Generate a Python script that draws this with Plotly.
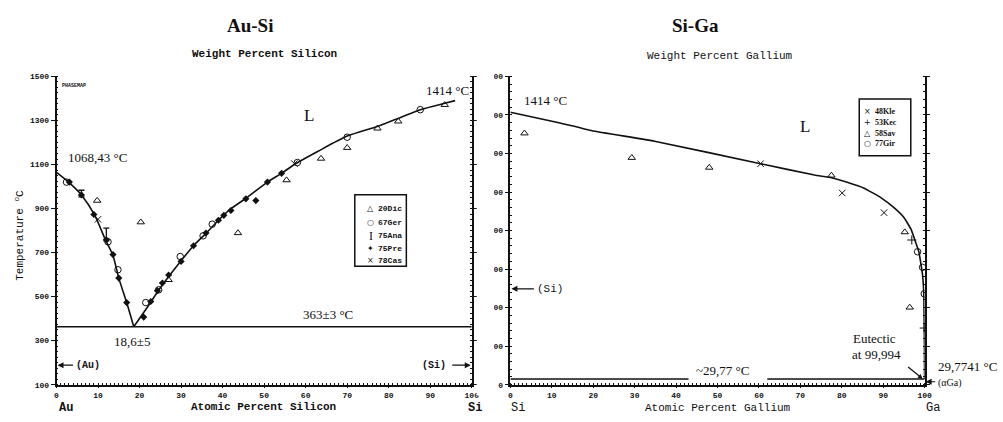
import plotly.graph_objects as go

W, H = 1003, 422

# ---------------- Au-Si data (atomic % Si, temperature °C) ----------------
ausi_liq_au_x = [0, 2.9, 6, 9.1, 11.9, 13.6, 15, 16.9, 18.6]
ausi_liq_au_t = [1064, 1020, 962, 873, 753, 687, 584, 473, 363]
ausi_liq_si_x = [18.6, 22, 25, 28, 30.3, 33, 36.3, 39, 41.8, 45.8, 50.8, 54.2, 57.3, 63, 70, 77.6, 83, 87.8, 93.5, 96]
ausi_liq_si_t = [363, 455, 540, 615, 670, 731, 793, 847, 896, 949, 1020, 1060, 1100, 1160, 1229, 1275, 1315, 1350, 1378, 1390]
ausi_eut_x = [0, 100]
ausi_eut_t = [363, 363]

dic20_x = [9.8, 20.3, 27, 43.7, 55.4, 63.7, 70, 77.3, 82.3, 93.5]
dic20_t = [936, 838, 576, 789, 1029, 1127, 1176, 1264, 1296, 1371]
ger67_x = [2.4, 12.4, 14.8, 21.5, 24.6, 29.8, 35.3, 37.5, 58, 70, 87.6]
ger67_t = [1020, 749, 622, 473, 531, 682, 776, 829, 1109, 1224, 1349]
ana75_x = [6, 12]
ana75_t = [968, 782]
ana75_err = [15, 29]
pre75_x = [3.1, 6, 9, 12, 13.6, 15, 16.9, 21, 22.7, 24.3, 25.5, 27, 30, 33, 36, 39, 40.3, 42, 45.6, 48, 50.8, 54.2]
pre75_t = [1020, 962, 873, 758, 691, 584, 473, 407, 478, 527, 562, 598, 660, 731, 789, 847, 869, 891, 944, 936, 1020, 1060]
cas78_x = [10, 57.3]
cas78_t = [851, 1104]

ausi_wt_ticks = [0, 2, 5, 10, 20, 30, 40, 50, 60, 80, 100]

# ---------------- Si-Ga data (atomic % Ga, temperature °C) ----------------
siga_liq_x = [0, 11.7, 19.7, 34.8, 60.4, 73.4, 77.5, 81.3, 85.4, 89.5, 92.6, 95, 96.7, 97.8, 98.6, 99.0, 99.5, 99.8, 99.95, 99.994]
siga_liq_t = [1414, 1360, 1318, 1264, 1147, 1088, 1074, 1051, 1020, 970, 919, 868, 807, 741, 690, 640, 569, 467, 200, 29.77]
siga_eut_x = [0, 43, None, 62, 100]
siga_eut_t = [29.77, 29.77, None, 29.77, 29.77]

kle48_x = [60.4, 80.1, 90.2]
kle48_t = [1147, 995, 893]
kec53_x = [96.9, 99.9]
kec53_t = [751, 294]
sav58_x = [3.4, 29.3, 48, 77.5, 95.2, 96.4]
sav58_t = [1305, 1178, 1127, 1086, 792, 401]
gir77_x = [98.3, 99.5, 99.9]
gir77_t = [690, 609, 472]

siga_wt_ticks = [0, 10, 20, 30, 40, 50, 60, 70, 80, 90, 100]

M_AU, M_SI, M_GA = 196.967, 28.086, 69.723


def wt_to_at(w, m_self, m_other):
    if w <= 0:
        return 0.0
    if w >= 100:
        return 100.0
    a = w / m_self
    b = (100 - w) / m_other
    return 100 * a / (a + b)


INK = "#111111"
SERIF = "Liberation Serif"
MONO = "Liberation Mono"


def px(x, y):
    return x / W, 1 - y / H


fig = go.Figure()

line_style = dict(color=INK, width=1.6)
# Au-Si curves
fig.add_trace(go.Scatter(x=ausi_liq_au_x, y=ausi_liq_au_t, mode="lines", line=dict(shape="spline", smoothing=0.7, **line_style),
                         xaxis="x", yaxis="y", showlegend=False, name="Liquidus (Au side)"))
fig.add_trace(go.Scatter(x=ausi_liq_si_x, y=ausi_liq_si_t, mode="lines", line=dict(shape="spline", smoothing=0.7, **line_style),
                         xaxis="x", yaxis="y", showlegend=False, name="Liquidus (Si side)"))
fig.add_trace(go.Scatter(x=ausi_eut_x, y=ausi_eut_t, mode="lines", line=line_style,
                         xaxis="x", yaxis="y", showlegend=False, name="Eutectic"))

mk = dict(color=INK, size=6.5, line=dict(color=INK, width=1))
fig.add_trace(go.Scatter(x=dic20_x, y=dic20_t, mode="markers", name="20Dic",
                         marker=dict(symbol="triangle-up-open", **mk), xaxis="x", yaxis="y", showlegend=False))
fig.add_trace(go.Scatter(x=ger67_x, y=ger67_t, mode="markers", name="67Ger",
                         marker=dict(symbol="circle-open", **mk), xaxis="x", yaxis="y", showlegend=False))
fig.add_trace(go.Scatter(x=ana75_x, y=ana75_t, mode="markers", name="75Ana",
                         marker=dict(symbol="line-ew", size=1, color=INK),
                         error_y=dict(type="data", array=ana75_err, color=INK, thickness=1.3, width=3),
                         xaxis="x", yaxis="y", showlegend=False))
fig.add_trace(go.Scatter(x=pre75_x, y=pre75_t, mode="markers", name="75Pre",
                         marker=dict(symbol="diamond", color=INK, size=5.5), xaxis="x", yaxis="y", showlegend=False))
fig.add_trace(go.Scatter(x=cas78_x, y=cas78_t, mode="markers", name="78Cas",
                         marker=dict(symbol="x-thin-open", **mk), xaxis="x", yaxis="y", showlegend=False))

# Si-Ga curves
fig.add_trace(go.Scatter(x=siga_liq_x, y=siga_liq_t, mode="lines", line=dict(shape="spline", smoothing=0.3, **line_style),
                         xaxis="x2", yaxis="y2", showlegend=False, name="Liquidus"))
fig.add_trace(go.Scatter(x=siga_eut_x, y=siga_eut_t, mode="lines", line=line_style, connectgaps=False,
                         xaxis="x2", yaxis="y2", showlegend=False, name="Eutectic"))
fig.add_trace(go.Scatter(x=kle48_x, y=kle48_t, mode="markers", name="48Kle",
                         marker=dict(symbol="x-thin-open", **mk), xaxis="x2", yaxis="y2", showlegend=False))
fig.add_trace(go.Scatter(x=kec53_x, y=kec53_t, mode="markers", name="53Kec",
                         marker=dict(symbol="cross-thin-open", **mk), xaxis="x2", yaxis="y2", showlegend=False))
fig.add_trace(go.Scatter(x=sav58_x, y=sav58_t, mode="markers", name="58Sav",
                         marker=dict(symbol="triangle-up-open", **mk), xaxis="x2", yaxis="y2", showlegend=False))
fig.add_trace(go.Scatter(x=gir77_x, y=gir77_t, mode="markers", name="77Gir",
                         marker=dict(symbol="circle-open", **mk), xaxis="x2", yaxis="y2", showlegend=False))

# ---------------- axes ----------------
ydom = [1 - 389 / H, 1 - 74 / H]
tickfont = dict(family=MONO, size=8, color=INK, weight="bold")
common = dict(showline=True, linecolor=INK, linewidth=1.5, ticks="outside", ticklen=4, tickwidth=1.2,
              tickcolor=INK, showgrid=False, zeroline=False, tickfont=tickfont)
bottom = {**common, "ticklen": 2}


def minor(dt):
    return dict(ticks="inside", ticklen=2, tickcolor=INK, tickwidth=1, dtick=dt, showgrid=False)


fig.update_layout(
    xaxis=dict(domain=[55 / W, 474 / W], range=[0, 100], anchor="y", tickvals=list(range(0, 101, 10)),
               minor=minor(1), **bottom),
    yaxis=dict(domain=ydom, range=[100, 1500], anchor="x", tickvals=list(range(100, 1501, 200)), mirror="ticks",
               minor=minor(25), **common),
    xaxis3=dict(overlaying="x", side="top", anchor="y", range=[0, 100],
                tickvals=[wt_to_at(w, M_SI, M_AU) for w in ausi_wt_ticks],
                ticktext=[str(w) for w in ausi_wt_ticks], minor=minor(1), **common),
    xaxis2=dict(domain=[513 / W, 931 / W], range=[0, 100], anchor="y2", tickvals=list(range(0, 101, 10)),
                minor=minor(1), **bottom),
    yaxis2=dict(domain=ydom, range=[0, 1600], anchor="x2", tickvals=list(range(0, 1601, 200)), mirror="ticks",
                minor=minor(40), **common),
    xaxis4=dict(overlaying="x2", side="top", anchor="y2", range=[0, 100],
                tickvals=[wt_to_at(w, M_GA, M_SI) for w in siga_wt_ticks],
                ticktext=[str(w) for w in siga_wt_ticks], minor=minor(1), **common),
    width=W, height=H, margin=dict(l=0, r=0, t=0, b=0),
    paper_bgcolor="white", plot_bgcolor="white", showlegend=False,
)

# ---------------- annotations ----------------
ann = []


def text(x, y, s, size=13, family=SERIF, bold=False, xanchor="center", angle=0, yanchor="middle"):
    ax_, ay_ = px(x, y)
    ann.append(dict(x=ax_, y=ay_, xref="paper", yref="paper", text=s, showarrow=False,
                    xanchor=xanchor, yanchor=yanchor, textangle=angle,
                    font=dict(family=family, size=size, color=INK, weight="bold" if bold else "normal")))


def arrow(x0, y0, x1, y1, head=2, size=1.0):
    a1 = px(x1, y1)
    ann.append(dict(x=a1[0], y=a1[1], ax=x0 - x1, ay=y0 - y1, xref="paper", yref="paper",
                    axref="pixel", ayref="pixel",
                    text="", showarrow=True, arrowhead=head, arrowsize=size, arrowwidth=1.2, arrowcolor=INK))


# titles
text(250, 22, "Au-Si", size=19, bold=True)
text(700, 22, "Si-Ga", size=19, bold=True)
# axis titles
text(265, 51, "Weight Percent Silicon", size=11, family=MONO, bold=True)
text(724, 53, "Weight Percent Gallium", size=11, family=MONO)
text(264, 412, "Atomic Percent Silicon", size=11, family=MONO, bold=True)
text(722, 413, "Atomic Percent Gallium", size=11, family=MONO)
text(18, 236, "Temperature <sup>o</sup>C", size=11, family=MONO, angle=-90)
text(55, 413, "Au", size=12, family=MONO, bold=True, xanchor="left")
text(486, 413, "Si", size=12, family=MONO, bold=True, xanchor="right")
text(512, 413, "Si", size=12, family=MONO, xanchor="left")
text(930, 413, "Ga", size=12, family=MONO, xanchor="left")
text(59, 84, "PHASEMAP", size=5, family=MONO, bold=True, xanchor="left")

# Au-Si labels
text(65, 157, "1068,43 °C", xanchor="left")
text(450, 88, "1414 °C")
text(310, 114, "L", size=17)
text(329, 317, "363±3 °C")
text(131, 345, "18,6±5")
text(73, 369, "(Au)", size=10, family=MONO, bold=True, xanchor="left")
arrow(73, 369, 56, 369)
text(450, 369, "(Si)", size=10, family=MONO, bold=True, xanchor="right")
arrow(453, 369, 473, 369)

# Si-Ga labels
text(525, 99, "1414 °C", xanchor="left")
text(810, 125, "L", size=17)
text(727, 374, "~29,77 °C")
text(857, 342, "Eutectic", xanchor="left")
text(856, 358, "at 99,994", xanchor="left")
arrow(913, 370, 929, 383, head=2, size=0.8)
text(942, 370, "29,7741 °C", xanchor="left")
text(942, 387, "(αGa)", size=10, xanchor="left")
arrow(943, 386, 932, 386, head=2, size=1.0)
text(538, 291, "(Si)", size=11, family=MONO, xanchor="left")
arrow(538, 291, 514, 291)

# legends (drawn as text in framed boxes)
left_leg_sym = ["△", "○", "I", "✦", "×"]
left_leg_lab = ["20Dic", "67Ger", "75Ana", "75Pre", "78Cas"]
left_leg_y = [209, 223, 237, 250, 262]
for s, lab, y in zip(left_leg_sym, left_leg_lab, left_leg_y):
    if s == "I":
        text(372, y, s, size=12, family=SERIF)
    else:
        text(372, y, s, size=8, family="DejaVu Sans")
    text(377, y, lab, size=8, family=MONO, bold=True, xanchor="left")

right_leg_sym = ["×", "+", "△", "○"]
right_leg_lab = ["48Kle", "53Kec", "58Sav", "77Gir"]
right_leg_y = [110, 121, 132, 143]
for s, lab, y in zip(right_leg_sym, right_leg_lab, right_leg_y):
    text(873, y, s, size=8, family="DejaVu Sans")
    text(879, y, lab, size=8, family=SERIF, bold=True, xanchor="left")

shapes = []


def rect(xa, ya, xb, yb, **kw):
    p0 = px(xa, ya)
    p1 = px(xb, yb)
    shapes.append(dict(type="rect", xref="paper", yref="paper", x0=p0[0], y0=p1[1], x1=p1[0], y1=p0[1], **kw))


rect(356, 195, 408, 268, line=dict(color=INK, width=1.5), fillcolor="rgba(0,0,0,0)")
rect(865, 97, 917, 155, line=dict(color=INK, width=1.5), fillcolor="rgba(0,0,0,0)")
# crop edge of the right panel's temperature labels (as in the reference image)
rect(479, 60, 496.5, 400, line=dict(width=0), fillcolor="white", layer="above")

fig.update_layout(annotations=ann, shapes=shapes)

fig.write_html("out.html", config={"displayModeBar": False},
               post_script="document.body.style.margin='0';document.body.style.overflow='hidden';")
